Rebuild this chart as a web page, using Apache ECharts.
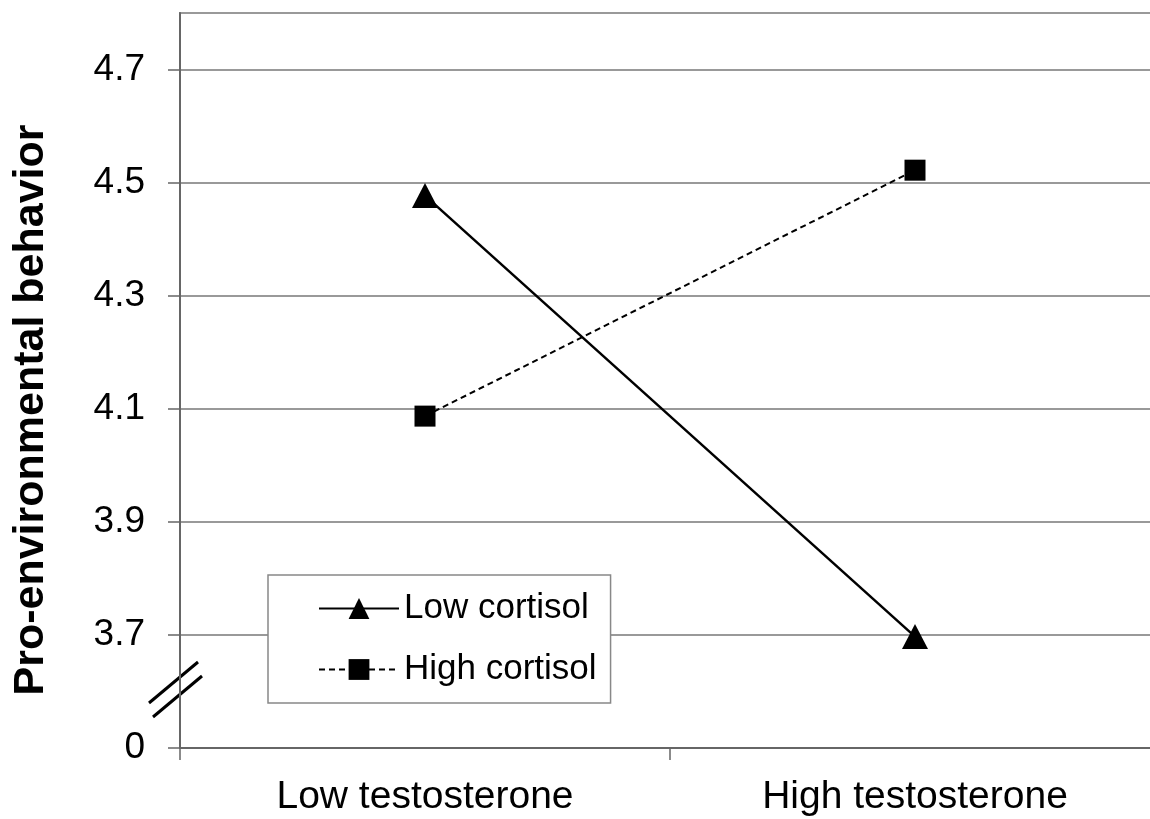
<!DOCTYPE html>
<html lang="en">
<head>
    <meta charset="UTF-8">
    <title>Pro-environmental behavior</title>
    <script src="https://cdn.jsdelivr.net/npm/echarts@6/dist/echarts.min.js"></script>
</head>
<style>
    *{
        margin: 0;
    }
    html,body{
        height: 100%;
        background: #fff;
        overflow: hidden;
    }
    /* plot runs a little past the right edge of the window, as in the original */
    #chart{
        width: 1160px;
        height: 819px;
    }
</style>
<body>
<div id="chart"></div>
<script>
    // data
    const categories = ['Low testosterone', 'High testosterone'];
    const lowCortisol = [4.477, 3.697];
    const highCortisol = [4.087, 4.522];
    // the axis is broken: 0 sits where 3.5 would be
    const tickValues = [0, 0.2, 0.4, 0.6, 0.8, 1.0, 1.2];
    const tickLabels = ['0', '3.7', '3.9', '4.1', '4.3', '4.5', '4.7'];
    const BASE = 3.5;

    const shift = arr => arr.map(v => +(v - BASE).toFixed(3));
    const font = 'Liberation Sans, Arial, sans-serif';

    let chart = echarts.init(document.getElementById('chart'));
    chart.setOption({
        animation: false,
        grid: {
            left: 180,
            right: 0,
            top: 13,
            bottom: 71,
            show: true,
            borderColor: '#999',
            borderWidth: 2
        },
        legend: {
            left: 268,
            top: 575,
            orient: 'vertical',
            padding: [16, 14, 16, 50],
            backgroundColor: '#fff',
            borderColor: '#888',
            borderWidth: 1.5,
            itemWidth: 80,
            itemHeight: 26,
            itemGap: 26,
            textStyle: {fontSize: 35, fontFamily: font, color: '#000'},
            data: ['Low cortisol', 'High cortisol']
        },
        xAxis: {
            type: 'category',
            data: categories,
            boundaryGap: true,
            axisLine: {lineStyle: {color: '#666', width: 2}},
            axisTick: {show: true, length: 12, lineStyle: {color: '#666', width: 1.5}},
            axisLabel: {fontSize: 39, fontFamily: font, color: '#000', margin: 30},
            splitLine: {show: false}
        },
        yAxis: {
            type: 'value',
            min: 0,
            max: 1.3,
            interval: 0.2,
            axisLine: {show: true, lineStyle: {color: '#666', width: 2}},
            axisTick: {show: true, length: 12, customValues: tickValues, lineStyle: {color: '#666', width: 1.5}},
            axisLabel: {
                fontSize: 37,
                fontFamily: font,
                color: '#000',
                margin: 35,
                customValues: tickValues,
                formatter: function (v) {
                    let i = Math.round(v / 0.2);
                    if (Math.abs(v - i * 0.2) > 1e-6) return '';
                    return tickLabels[i] || '';
                }
            },
            splitLine: {lineStyle: {color: '#999', width: 2}}
        },
        graphic: [
            {
                type: 'text',
                x: 31,
                y: 410,
                rotation: Math.PI / 2,
                style: {
                    text: 'Pro-environmental behavior',
                    fontSize: 43,
                    fontWeight: 'bold',
                    fontFamily: font,
                    fill: '#000',
                    align: 'center',
                    verticalAlign: 'middle'
                }
            },
            // axis break marks
            {
                type: 'line',
                shape: {x1: 149, y1: 703, x2: 198, y2: 662},
                style: {stroke: '#000', lineWidth: 3}
            },
            {
                type: 'line',
                shape: {x1: 153, y1: 717, x2: 202, y2: 676},
                style: {stroke: '#000', lineWidth: 3}
            }
        ],
        series: [
            {
                name: 'Low cortisol',
                type: 'line',
                data: shift(lowCortisol),
                symbol: 'triangle',
                symbolSize: [26, 25],
                itemStyle: {color: '#000'},
                lineStyle: {color: '#000', width: 2.5}
            },
            {
                name: 'High cortisol',
                type: 'line',
                data: shift(highCortisol),
                symbol: 'rect',
                symbolSize: 21,
                itemStyle: {color: '#000'},
                lineStyle: {color: '#000', width: 2, type: [6, 4]}
            }
        ]
    });
</script>
</body>
</html>
